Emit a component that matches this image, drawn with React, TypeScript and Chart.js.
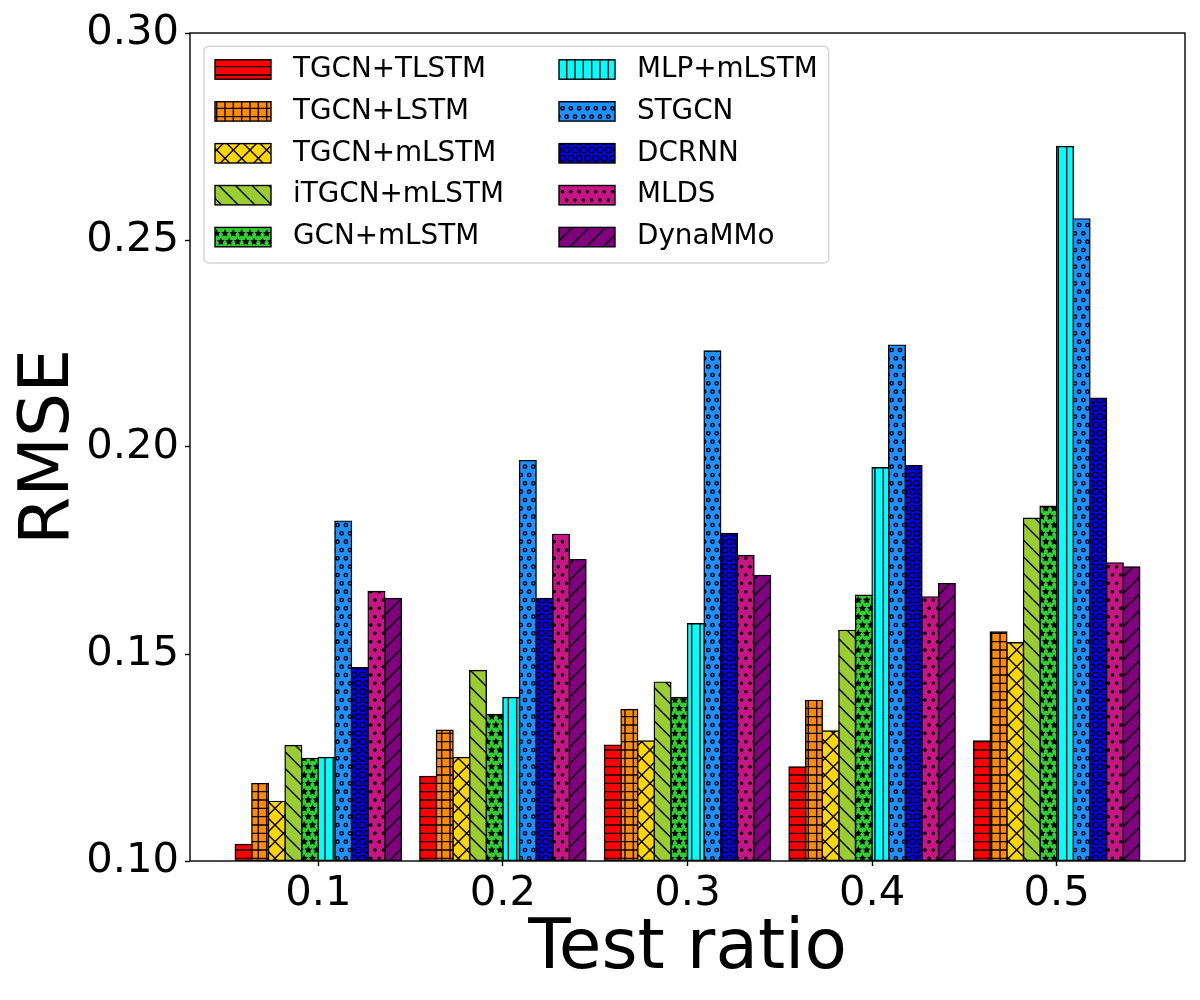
import { useEffect, useRef } from "react";
import { Chart, registerables } from "chart.js";

Chart.register(...registerables);

// x categories (test ratio)
const testRatios = ["0.1", "0.2", "0.3", "0.4", "0.5"];

// RMSE per method
const tgcnTlstm = [0.104, 0.1204, 0.128, 0.1227, 0.129];
const tgcnLstm = [0.1187, 0.1316, 0.1366, 0.1388, 0.1553];
const tgcnMlstm = [0.1144, 0.125, 0.129, 0.1314, 0.1527];
const itgcnMlstm = [0.1279, 0.146, 0.1432, 0.1557, 0.1828];
const gcnMlstm = [0.1248, 0.1354, 0.1395, 0.1642, 0.1857];
const mlpMlstm = [0.125, 0.1395, 0.1573, 0.195, 0.2726];
const stgcn = [0.1821, 0.1967, 0.2232, 0.2246, 0.2551];
const dcrnn = [0.1467, 0.1634, 0.1791, 0.1955, 0.2118];
const mlds = [0.1651, 0.1789, 0.1738, 0.1638, 0.172];
const dynammo = [0.1634, 0.1728, 0.169, 0.167, 0.171];

const yTicks = [0.1, 0.15, 0.2, 0.25, 0.3];

const series = [
  { label: "TGCN+TLSTM", data: tgcnTlstm, color: "#ff0000", hatch: "-" },
  { label: "TGCN+LSTM", data: tgcnLstm, color: "#ff8c00", hatch: "+" },
  { label: "TGCN+mLSTM", data: tgcnMlstm, color: "#ffd700", hatch: "x" },
  { label: "iTGCN+mLSTM", data: itgcnMlstm, color: "#9acd32", hatch: "\\" },
  { label: "GCN+mLSTM", data: gcnMlstm, color: "#32cd32", hatch: "*" },
  { label: "MLP+mLSTM", data: mlpMlstm, color: "#00ffff", hatch: "|" },
  { label: "STGCN", data: stgcn, color: "#1e90ff", hatch: "o" },
  { label: "DCRNN", data: dcrnn, color: "#0000ff", hatch: "O" },
  { label: "MLDS", data: mlds, color: "#c71585", hatch: "." },
  { label: "DynaMMo", data: dynammo, color: "#800080", hatch: "/" },
];

const FONT = "'DejaVu Sans', sans-serif";
const TILE = 50;
const STEP = TILE / 6;
const LW = 1.4;

function makeHatch(color: string, hatch: string) {
  const c = document.createElement("canvas");
  c.width = TILE;
  c.height = TILE;
  const g = c.getContext("2d")!;
  g.fillStyle = color;
  g.fillRect(0, 0, TILE, TILE);
  g.strokeStyle = "#000";
  g.fillStyle = "#000";
  g.lineWidth = LW;
  const line = (x1: number, y1: number, x2: number, y2: number) => {
    g.beginPath();
    g.moveTo(x1, y1);
    g.lineTo(x2, y2);
    g.stroke();
  };
  if (hatch === "-" || hatch === "+") {
    for (let k = 0; k <= 6; k++) line(0, k * STEP, TILE, k * STEP);
  }
  if (hatch === "|" || hatch === "+") {
    for (let k = 0; k <= 6; k++) line(k * STEP, 0, k * STEP, TILE);
  }
  if (hatch === "/" || hatch === "x") {
    for (let k = -4; k <= 4; k++) line(k * 2 * STEP, TILE, k * 2 * STEP + TILE, 0);
  }
  if (hatch === "\\" || hatch === "x") {
    for (let k = -4; k <= 4; k++) line(k * 2 * STEP, 0, k * 2 * STEP + TILE, TILE);
  }
  if ("*oO.".includes(hatch)) {
    g.lineWidth = 1.1;
    for (let i = -1; i <= 7; i++) {
      for (let j = -1; j <= 7; j++) {
        const cx = (j + (i % 2 !== 0 ? 0.5 : 0)) * STEP;
        const cy = i * STEP;
        g.beginPath();
        if (hatch === "*") {
          const R = STEP / 3;
          for (let p = 0; p < 10; p++) {
            const r = p % 2 === 0 ? R : R * 0.5;
            const a = -Math.PI / 2 + (p * Math.PI) / 5;
            const px = cx + r * Math.cos(a);
            const py = cy + r * Math.sin(a);
            if (p === 0) g.moveTo(px, py);
            else g.lineTo(px, py);
          }
          g.closePath();
          g.fill();
          g.stroke();
        } else if (hatch === ".") {
          g.arc(cx, cy, STEP * 0.1 + 0.4, 0, Math.PI * 2);
          g.fill();
          g.stroke();
        } else {
          const r = hatch === "o" ? STEP * 0.2 : STEP * 0.35;
          g.lineWidth = LW;
          g.arc(cx, cy, r, 0, Math.PI * 2);
          g.stroke();
        }
      }
    }
  }
  return g.createPattern(c, "repeat") as CanvasPattern;
}

const framePlugin = {
  id: "frame",
  afterDatasetsDraw(chart: any) {
    const { ctx, chartArea: a } = chart;
    ctx.save();
    ctx.strokeStyle = "#000";
    ctx.lineWidth = LW;
    ctx.strokeRect(a.left, a.top, a.right - a.left, a.bottom - a.top);
    ctx.restore();
  },
};

const legendPlugin = {
  id: "boxLegend",
  afterDraw(chart: any) {
    const { ctx, chartArea: a } = chart;
    const fs = 27.8;
    const bx = a.left + 14;
    const by = a.top + 13.3;
    const bw = 624.7;
    const bh = 216.7;
    ctx.save();
    ctx.beginPath();
    ctx.roundRect(bx, by, bw, bh, 5);
    ctx.fillStyle = "rgba(255,255,255,0.8)";
    ctx.fill();
    ctx.strokeStyle = "rgba(204,204,204,0.8)";
    ctx.lineWidth = LW;
    ctx.stroke();
    ctx.font = `${fs}px ${FONT}`;
    ctx.textBaseline = "middle";
    ctx.textAlign = "left";
    chart.data.datasets.forEach((ds: any, i: number) => {
      const col = Math.floor(i / 5);
      const row = i % 5;
      const hx = bx + 11 + col * 344;
      const cy = by + 23.2 + row * 41.9;
      ctx.fillStyle = ds.backgroundColor;
      ctx.fillRect(hx, cy - 9.7, 56, 19.4);
      ctx.strokeStyle = "#000";
      ctx.lineWidth = LW;
      ctx.strokeRect(hx, cy - 9.7, 56, 19.4);
      ctx.fillStyle = "#000";
      ctx.fillText(ds.label, hx + 78, cy);
    });
    ctx.restore();
  },
};

export default function App() {
  const ref = useRef<HTMLCanvasElement>(null);

  useEffect(() => {
    document.body.style.margin = "0";
    let chart: Chart | undefined;
    if (ref.current) {
      Chart.defaults.color = "#000";
      Chart.defaults.font.family = FONT;
      chart = new Chart(ref.current, {
        type: "bar",
        data: {
          datasets: series.map((s) => ({
            label: s.label,
            data: s.data.map((v, i) => ({ x: i, y: v })),
            backgroundColor: makeHatch(s.color, s.hatch),
            borderColor: "#000",
            borderWidth: LW,
            borderSkipped: false,
            inflateAmount: LW / 2,
            base: yTicks[0],
            clip: 0,
            categoryPercentage: 0.9,
            barPercentage: 1.0,
          })) as any,
        },
        options: {
          animation: false,
          responsive: true,
          maintainAspectRatio: false,
          devicePixelRatio: 1,
          layout: { padding: { top: 33, right: 15, left: 0, bottom: 0 } },
          plugins: {
            legend: { display: false },
            tooltip: { enabled: false },
          },
          scales: {
            x: {
              type: "linear",
              offset: false,
              min: -0.695,
              max: testRatios.length - 1 + 0.695,
              afterBuildTicks: (axis: any) => {
                axis.ticks = testRatios.map((_, i) => ({ value: i }));
              },
              afterFit: (scale: any) => {
                scale.height = 139;
              },
              ticks: {
                font: { size: 41.7 },
                color: "#000",
                padding: 3,
                maxRotation: 0,
                autoSkip: false,
                callback: (v: any) => testRatios[Math.round(Number(v))] ?? "",
              },
              grid: {
                display: true,
                offset: false,
                drawOnChartArea: false,
                drawTicks: true,
                tickLength: 5,
                tickColor: "#000",
                tickWidth: LW,
              },
              border: { display: false },
              title: {
                display: true,
                text: "Test ratio",
                font: { size: 69.4 },
                color: "#000",
                padding: { top: 0, bottom: 8.8 },
              },
            },
            y: {
              min: yTicks[0],
              max: yTicks[yTicks.length - 1],
              afterBuildTicks: (axis: any) => {
                axis.ticks = yTicks.map((v) => ({ value: v }));
              },
              afterFit: (scale: any) => {
                scale.width = 190;
              },
              ticks: {
                font: { size: 41.7 },
                color: "#000",
                padding: 6,
                callback: (v: any) => Number(v).toFixed(2),
              },
              grid: {
                display: true,
                offset: false,
                drawOnChartArea: false,
                drawTicks: true,
                tickLength: 5,
                tickColor: "#000",
                tickWidth: LW,
              },
              border: { display: false },
              title: {
                display: true,
                text: "RMSE",
                font: { size: 69.4 },
                color: "#000",
                padding: { top: 8.8, bottom: 0 },
              },
            },
          },
        },
        plugins: [framePlugin, legendPlugin],
      });
    }
    return () => {
      chart?.destroy();
    };
  }, []);

  return (
    <div style={{ width: 1200, height: 1000, position: "relative", background: "#fff" }}>
      <canvas ref={ref} />
    </div>
  );
}
